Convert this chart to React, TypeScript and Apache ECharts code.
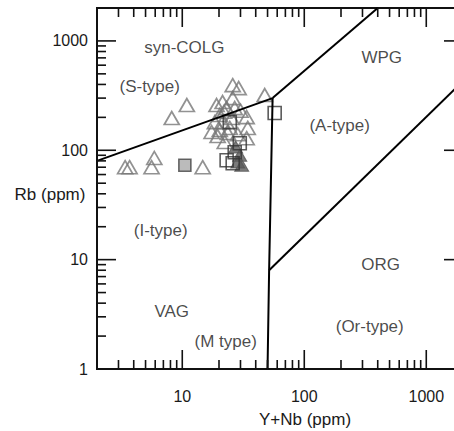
import React, { useEffect, useRef } from "react";
import * as echarts from "echarts";

// Sample data (Y+Nb ppm, Rb ppm)
const hollowTriangles: [number, number][] = [
  [3.4, 70], [3.7, 70], [5.6, 70], [5.9, 85], [8.2, 197], [10.9, 259], [14.7, 70],
  [25.9, 394], [29.0, 370], [47.4, 320],
  [19.1, 259], [21.4, 276], [25.9, 300], [23.1, 243], [26.9, 243], [20.3, 210],
  [18.5, 181], [21.4, 181], [25.4, 197], [33.7, 201], [17.4, 147], [20.3, 153],
  [34.4, 160], [23.6, 144], [33.7, 129], [22.3, 119], [19.5, 135], [24.5, 160],
  [28.5, 140], [22.0, 225], [30.0, 230],
];
const hollowSquares: [number, number][] = [
  [57.2, 219], [24.5, 181], [29.6, 116], [26.9, 96], [23.1, 81], [25.9, 76],
];
const filledSquares: [number, number][] = [[10.5, 73]];
const filledTriangles: [number, number][] = [[30.7, 73], [29.6, 90], [27.4, 107], [28.5, 78]];

// Discrimination boundaries
const vagSynColg: [number, number][] = [[2, 80], [55, 300]];
const synColgWpg: [number, number][] = [[55, 300], [400, 2000]];
const vagOrg: [number, number][] = [[50, 1], [51.5, 8], [55, 300]];
const orgWpg: [number, number][] = [[51.5, 8], [2000, 430]];

// Field labels
const fieldLabels: { text: string; x: number; y: number }[] = [
  { text: "syn-COLG", x: 10.4, y: 878 },
  { text: "(S-type)", x: 5.41, y: 386 },
  { text: "WPG", x: 431, y: 711 },
  { text: "(A-type)", x: 195, y: 170 },
  { text: "(I-type)", x: 6.66, y: 18.3 },
  { text: "VAG", x: 8.19, y: 3.39 },
  { text: "(M type)", x: 22.7, y: 1.77 },
  { text: "ORG", x: 423, y: 9.12 },
  { text: "(Or-type)", x: 344, y: 2.47 },
];

// Axes
const xRange = [2, 2000];
const yRange = [1, 2000];
const xTickLabels = [10, 100, 1000];
const yTickLabels = [1, 10, 100, 1000];
const xMajorTicks = [10, 100, 1000];
const xMinorTicks = [3, 4, 5, 6, 7, 8, 9, 20, 30, 40, 50, 60, 70, 80, 90, 200, 300, 400, 500, 600, 700, 800, 900];
const yMajorTicks = [10, 100, 1000];
const yMinorTicks = [2, 3, 4, 5, 6, 7, 8, 9, 20, 30, 40, 50, 60, 70, 80, 90, 200, 300, 400, 500, 600, 700, 800, 900];

const FONT = "'Liberation Sans', Arial, Helvetica, sans-serif";
const MAJOR_LEN = 19;
const MINOR_LEN = 9;
const TEXT = "#1a1a1a";

function matchLabel(v: number, list: number[]) {
  for (const l of list) if (Math.abs(v - l) / l < 1e-6) return String(l);
  return "";
}

export default function App() {
  const ref = useRef<HTMLDivElement>(null);
  useEffect(() => {
    if (!ref.current) return;
    const chart = echarts.init(ref.current, undefined, { renderer: "svg" });

    const xTickData = [
      ...xMajorTicks.map((v) => [v, 1, 1]),
      ...xMinorTicks.map((v) => [v, 1, 0]),
    ];
    const yTickData = [
      ...yMajorTicks.map((v) => [2, v, 1]),
      ...yMinorTicks.map((v) => [2, v, 0]),
    ];

    const tickStyle = { stroke: "#111", lineWidth: 1.6 };

    const lineSeries = (data: [number, number][]) => ({
      type: "line",
      data,
      symbol: "none",
      lineStyle: { color: "#000", width: 2 },
      z: 5,
      silent: true,
    });

    chart.setOption({
      animation: false,
      grid: {
        left: 97,
        top: 8,
        width: 366,
        height: 361,
        containLabel: false,
        outerBoundsMode: "none",
        show: true,
        borderColor: "#111",
        borderWidth: 2,
        backgroundColor: "transparent",
      },
      xAxis: {
        type: "log",
        logBase: 10,
        min: xRange[0],
        max: xRange[1],
        axisLine: { show: false },
        axisTick: { show: false },
        splitLine: { show: false },
        axisLabel: {
          fontFamily: FONT,
          fontSize: 16,
          color: TEXT,
          margin: 19,
          formatter: (v: number) => matchLabel(v, xTickLabels),
        },
      },
      yAxis: {
        type: "log",
        logBase: 10,
        min: yRange[0],
        max: yRange[1],
        axisLine: { show: false },
        axisTick: { show: false },
        splitLine: { show: false },
        axisLabel: {
          fontFamily: FONT,
          fontSize: 16,
          color: TEXT,
          margin: 9,
          padding: [8, 0, 0, 0],
          formatter: (v: number) => matchLabel(v, yTickLabels),
        },
      },
      graphic: [
        {
          type: "text",
          x: 50,
          y: 194,
          style: {
            text: "Rb (ppm)",
            font: `17px ${FONT}`,
            fill: TEXT,
            align: "center",
            verticalAlign: "middle",
          },
        },
        {
          type: "text",
          x: 305,
          y: 419,
          style: {
            text: "Y+Nb (ppm)",
            font: `17px ${FONT}`,
            fill: TEXT,
            align: "center",
            verticalAlign: "middle",
          },
        },
      ],
      series: [
        {
          type: "custom",
          data: xTickData,
          silent: true,
          z: 6,
          renderItem: (params: any, api: any) => {
            const cs = params.coordSys;
            const px = api.coord([api.value(0), 1])[0];
            const len = api.value(2) ? MAJOR_LEN : MINOR_LEN;
            return {
              type: "group",
              children: [
                { type: "line", shape: { x1: px, y1: cs.y + cs.height, x2: px, y2: cs.y + cs.height - len }, style: tickStyle },
                { type: "line", shape: { x1: px, y1: cs.y, x2: px, y2: cs.y + len }, style: tickStyle },
              ],
            };
          },
        },
        {
          type: "custom",
          data: yTickData,
          silent: true,
          z: 6,
          renderItem: (params: any, api: any) => {
            const cs = params.coordSys;
            const py = api.coord([2, api.value(1)])[1];
            const len = api.value(2) ? MAJOR_LEN : MINOR_LEN;
            return {
              type: "group",
              children: [
                { type: "line", shape: { x1: cs.x, y1: py, x2: cs.x + len, y2: py }, style: tickStyle },
                { type: "line", shape: { x1: cs.x + cs.width, y1: py, x2: cs.x + cs.width - len, y2: py }, style: tickStyle },
              ],
            };
          },
        },
        {
          type: "scatter",
          data: hollowTriangles,
          symbol: "triangle",
          symbolSize: [15, 13],
          itemStyle: { color: "transparent", borderColor: "#777", borderWidth: 1.7 },
          z: 2,
          silent: true,
        },
        {
          type: "scatter",
          data: filledTriangles,
          symbol: "triangle",
          symbolSize: [14, 12],
          itemStyle: { color: "#5a5a5a", borderColor: "#555", borderWidth: 1 },
          z: 3,
          silent: true,
        },
        {
          type: "scatter",
          data: hollowSquares,
          symbol: "rect",
          symbolSize: 13,
          itemStyle: { color: "transparent", borderColor: "#333", borderWidth: 1.6 },
          z: 4,
          silent: true,
        },
        {
          type: "scatter",
          data: filledSquares,
          symbol: "rect",
          symbolSize: 12,
          itemStyle: { color: "#aaa", borderColor: "#444", borderWidth: 1.6 },
          z: 4,
          silent: true,
        },
        lineSeries(vagSynColg),
        lineSeries(synColgWpg),
        lineSeries(vagOrg),
        lineSeries(orgWpg),
        {
          type: "scatter",
          data: fieldLabels.map((d) => ({ value: [d.x, d.y], name: d.text })),
          symbol: "circle",
          symbolSize: 2,
          itemStyle: { color: "transparent" },
          silent: true,
          z: 7,
          label: {
            show: true,
            position: "inside",
            formatter: (p: any) => p.name,
            fontFamily: FONT,
            fontSize: 17,
            color: TEXT,
          },
        },
      ],
    });
    return () => chart.dispose();
  }, []);
  return (
    <div
      ref={ref}
      style={{ position: "absolute", left: 0, top: 0, width: 454, height: 431 }}
    />
  );
}
